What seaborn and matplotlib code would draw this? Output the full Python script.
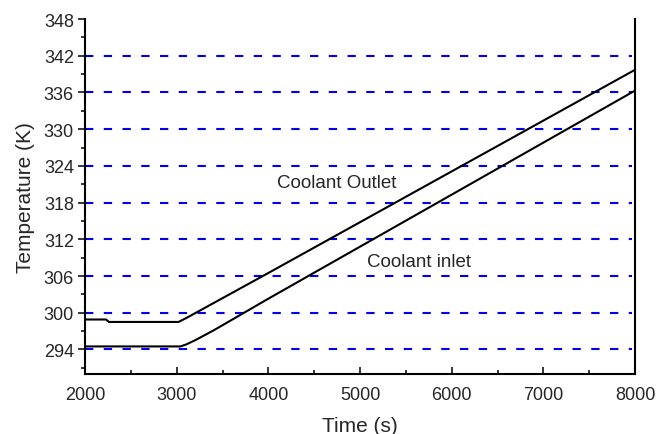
import pandas as pd
import matplotlib.pyplot as plt
import seaborn as sns
from matplotlib.ticker import MultipleLocator

# Values
outlet_time = [2000, 2230, 2260, 3020, 3100, 4000, 5000, 6000, 7000, 8000]
outlet_temp = [298.9, 298.9, 298.5, 298.5, 299.1, 306.5, 314.8, 323.1, 331.4, 339.7]
inlet_time = [2000, 3040, 3100, 3200, 3400, 4000, 5000, 6000, 7000, 8000]
inlet_temp = [294.5, 294.5, 294.8, 295.5, 297.1, 302.3, 310.8, 319.3, 327.8, 336.3]
grid_levels = [294, 300, 306, 312, 318, 324, 330, 336, 342]

df = pd.concat([
    pd.DataFrame({'time': outlet_time, 'temp': outlet_temp, 'series': 'Coolant Outlet'}),
    pd.DataFrame({'time': inlet_time, 'temp': inlet_temp, 'series': 'Coolant inlet'}),
], ignore_index=True)

sns.set_style('white')
plt.rcParams['font.family'] = ['Liberation Sans', 'DejaVu Sans']

fig = plt.figure(figsize=(6.56, 4.35), dpi=100)
ax = fig.add_axes([0.1296, 0.138, 0.8384, 0.816])

# blue dashed reference lines
for lvl in grid_levels:
    ax.axhline(lvl, xmin=0, xmax=0.995, color='#0000ee', linestyle=(0, (4, 5)), linewidth=1.5, zorder=1)

sns.lineplot(data=df, x='time', y='temp', hue='series', palette=['black', 'black'],
             linewidth=1.5, legend=False, ax=ax, zorder=3, sort=False, estimator=None)

ax.set_xlim(2000, 8000)
ax.set_ylim(290, 348)
ax.xaxis.set_major_locator(MultipleLocator(1000))
ax.xaxis.set_minor_locator(MultipleLocator(500))
ax.yaxis.set_minor_locator(MultipleLocator(3))
ax.set_yticks(range(294, 349, 6))

ax.tick_params(axis='x', which='major', direction='in', length=5, width=1.3, labelsize=13, pad=9, bottom=True)
ax.tick_params(axis='x', which='minor', direction='in', length=3, width=1.3, bottom=True)
ax.tick_params(axis='y', which='major', direction='out', length=5, width=1.3, labelsize=13, left=True, pad=3)
ax.tick_params(axis='y', which='minor', direction='out', length=3, width=1.3, left=True)

ax.spines['top'].set_visible(False)
for s in ['left', 'bottom', 'right']:
    ax.spines[s].set_linewidth(1.5)
    ax.spines[s].set_color('black')

ax.set_xlabel('Time (s)', fontsize=15, labelpad=9)
ax.set_ylabel('Temperature (K)', fontsize=15, labelpad=6)

ax.text(4090, 321.3, 'Coolant Outlet', fontsize=13.5, va='center')
ax.text(5080, 308.4, 'Coolant inlet', fontsize=13.5, va='center')

fig.savefig('out.png', dpi=100)
